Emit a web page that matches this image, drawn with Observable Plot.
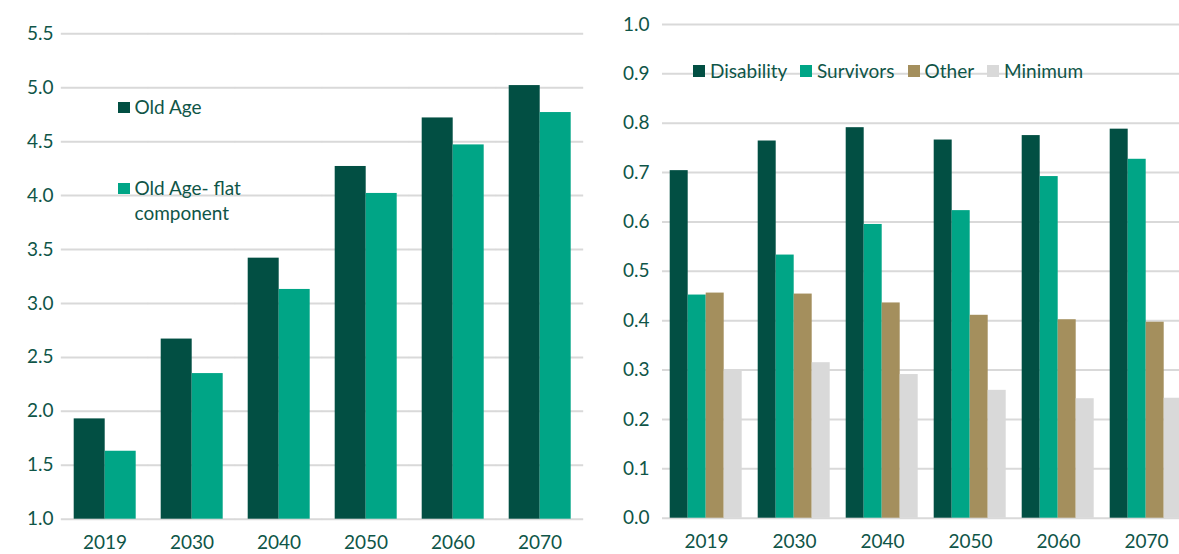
<!DOCTYPE html>
<html><head><meta charset="utf-8">
<script src="https://cdn.jsdelivr.net/npm/d3@7"></script>
<script src="https://cdn.jsdelivr.net/npm/@observablehq/plot@0.6"></script>
<style>
html,body{margin:0;padding:0;background:#fff;}
#root{position:relative;width:1179px;height:554px;overflow:hidden;font-family:Lato, sans-serif;color:#0f5548;}
#left{position:absolute;left:0;top:0;width:590px;}
#right{position:absolute;left:590px;top:0;width:602px;}
#root svg{max-width:none !important;}
.lg{position:absolute;font-size:19px;line-height:25px;white-space:nowrap;}
.sw{position:absolute;width:12px;height:11px;}
</style></head><body>
<div id="root"><div id="left"></div><div id="right"></div></div>
<script>
// ---- data ----
const years = ["2019", "2030", "2040", "2050", "2060", "2070"];

const leftSeries = ["Old Age", "Old Age- flat component"];
const oldAge     = [1.93, 2.67, 3.42, 4.27, 4.72, 5.02];
const oldAgeFlat = [1.63, 2.35, 3.13, 4.02, 4.47, 4.77];
const leftTicks  = [1.0, 1.5, 2.0, 2.5, 3.0, 3.5, 4.0, 4.5, 5.0, 5.5];

const rightSeries = ["Disability", "Survivors", "Other", "Minimum"];
const disability  = [0.704, 0.764, 0.791, 0.766, 0.775, 0.788];
const survivors   = [0.452, 0.533, 0.595, 0.623, 0.692, 0.727];
const other       = [0.456, 0.454, 0.436, 0.411, 0.402, 0.397];
const minimum     = [0.301, 0.315, 0.291, 0.259, 0.242, 0.243];
const rightTicks  = [0.0, 0.1, 0.2, 0.3, 0.4, 0.5, 0.6, 0.7, 0.8, 0.9, 1.0];

// ---- styles ----
const leftColors  = ["#024f43", "#00a586"];
const rightColors = ["#024f43", "#00a586", "#a48f5d", "#d9d9d9"];
const textColor = "#0f5548";
const gridColor = "#d9d9d9";

const leftData = years.flatMap((yr, i) => [
  {year: yr, series: leftSeries[0], value: oldAge[i]},
  {year: yr, series: leftSeries[1], value: oldAgeFlat[i]}
]);
const rightValues = [disability, survivors, other, minimum];
const rightData = years.flatMap((yr, i) =>
  rightSeries.map((s, k) => ({year: yr, series: s, value: rightValues[k][i]})));

function panel({data, series, colors, ticks, domain, base, width, ml, mr, mt, mb, pi}) {
  const step = (width - ml - mr) / years.length;
  const gap = pi * step;
  return Plot.plot({
    width, height: 554,
    marginLeft: ml, marginRight: mr, marginTop: mt, marginBottom: mb,
    style: {fontFamily: "Lato, sans-serif", fontSize: "19px", color: textColor, background: "transparent", overflow: "visible", maxWidth: "none"},
    fx: {domain: years, paddingInner: pi, paddingOuter: pi / 2, axis: "bottom", tickSize: 0, tickPadding: 16, label: null},
    x: {domain: series, axis: null, padding: 0},
    y: {domain, ticks, tickSize: 0, tickPadding: 20, tickFormat: d3.format(".1f"), label: null},
    color: {domain: series, range: colors},
    marks: [
      Plot.ruleY(ticks, {stroke: gridColor, strokeWidth: 2, insetLeft: -gap / 2, insetRight: -gap / 2}),
      Plot.barY(data, {fx: "year", x: "series", y1: base, y2: "value", fill: "series"})
    ]
  });
}

document.getElementById("left").append(panel({
  data: leftData, series: leftSeries, colors: leftColors, ticks: leftTicks, domain: [1, 5.5], base: 1,
  width: 590, ml: 59.3, mr: 5, mt: 33.3, mb: 35.3, pi: 0.278
}));
document.getElementById("right").append(panel({
  data: rightData, series: rightSeries, colors: rightColors, ticks: rightTicks, domain: [0, 1], base: 0,
  width: 602, ml: 69.3, mr: 0, mt: 24, mb: 36.3, pi: 0.158
}));

// ---- legends (HTML overlay) ----
const root = document.getElementById("root");
function addItem(label, color, sx, sy, tx, ty, w, h) {
  const sw = document.createElement("div");
  sw.className = "sw";
  Object.assign(sw.style, {left: sx + "px", top: sy + "px", width: w + "px", height: h + "px", background: color});
  const t = document.createElement("div");
  t.className = "lg";
  t.innerHTML = label;
  Object.assign(t.style, {left: tx + "px", top: ty + "px"});
  root.append(sw, t);
}
addItem(leftSeries[0], leftColors[0], 118, 101.5, 134.5, 94, 12, 11);
addItem(leftSeries[1].replace(" component", "<br>component"), leftColors[1], 118, 182.5, 134.5, 175, 12, 11);
const rsx = [693, 800, 907.6, 987];
rightSeries.forEach((s, k) => addItem(s, rightColors[k], rsx[k], 65, rsx[k] + 17, 58, 12, 12));
</script>
</body></html>
